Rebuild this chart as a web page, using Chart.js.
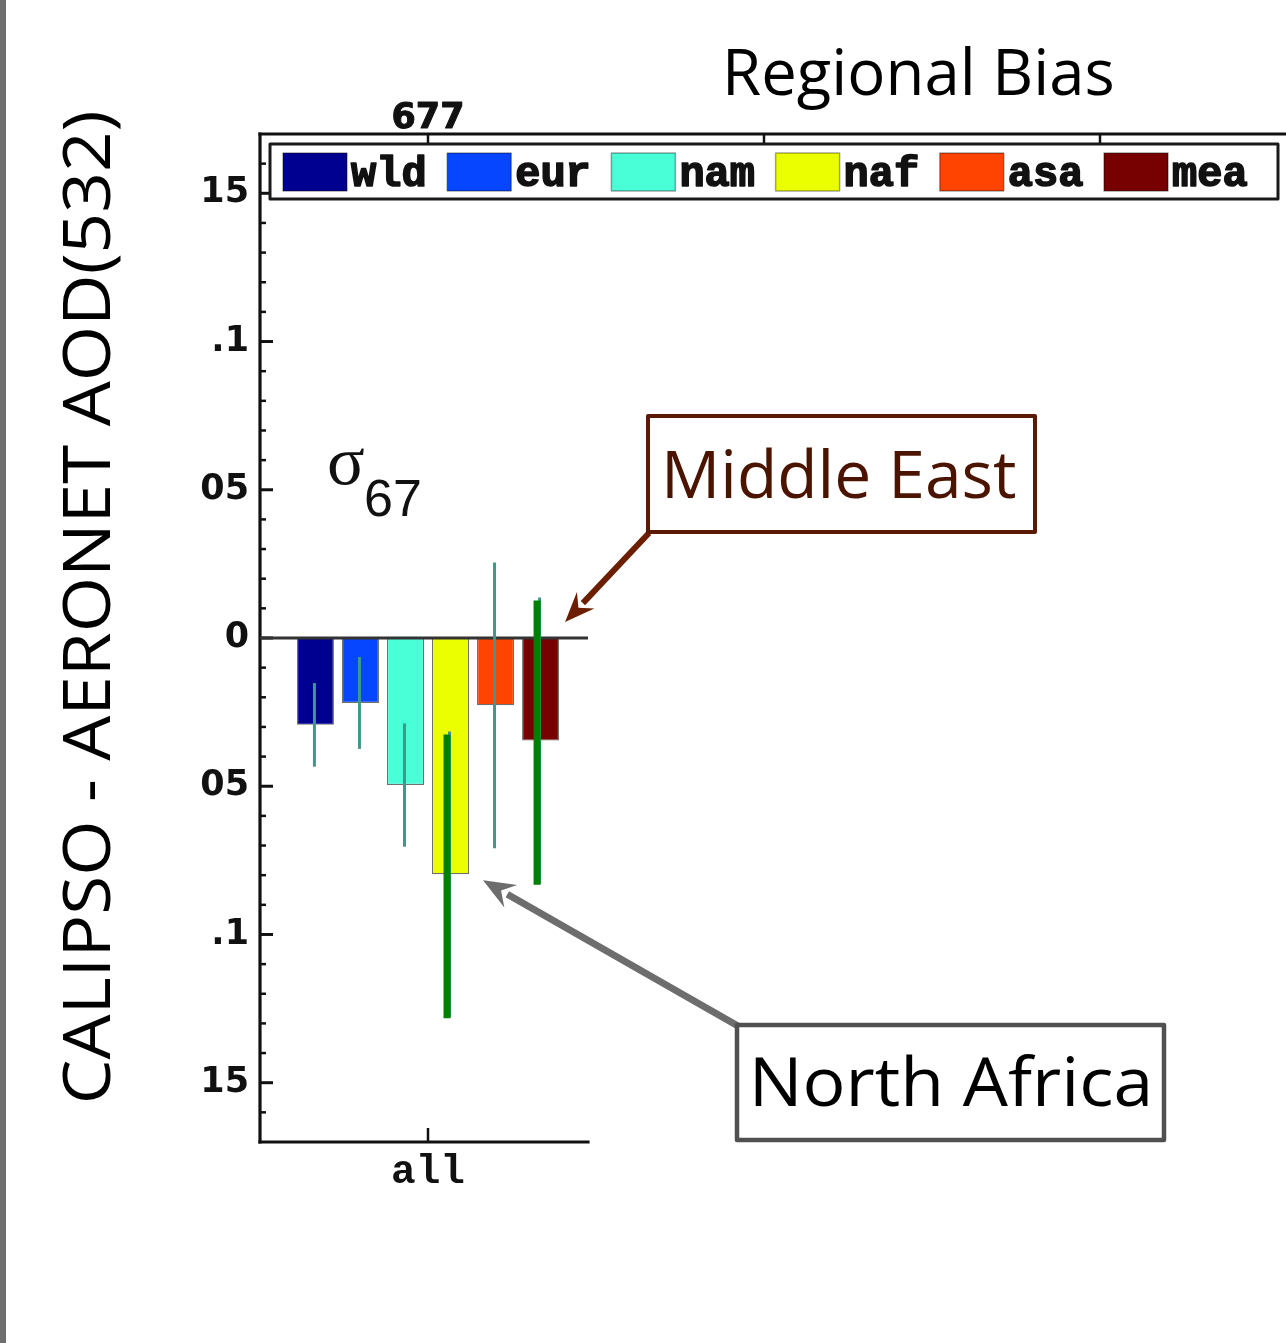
<!DOCTYPE html>
<html><head><meta charset="utf-8">
<style>html,body{margin:0;padding:0;background:#fff;overflow:hidden}canvas{display:block}</style>
<script src="https://cdn.jsdelivr.net/npm/chart.js@4.4.0/dist/chart.umd.min.js"></script>
</head><body>
<canvas id="c" width="1286" height="1343" style="width:1286px;height:1343px"></canvas>
<script>
// ---- data ----
const categories = ["all"];
const regions = ["wld", "eur", "nam", "naf", "asa", "mea"];
const regionColors = ["#000090", "#0646FF", "#48FFD8", "#EBFF00", "#FF4300", "#770000"];
const bias = [-0.0293, -0.0219, -0.0496, -0.0797, -0.0227, -0.0346];
const sigma = [0.0141, 0.0155, 0.0208, 0.0482, 0.0482, 0.0483];
const highlighted = ["naf", "mea"];
const sampleCounts = ["677"];
const yTickValues = [0.15, 0.1, 0.05, 0, -0.05, -0.1, -0.15];
const yTickLabels = ["15", ".1", "05", "0", "05", ".1", "15"];
const yMin = -0.17, yMax = 0.17;
const chartTitle = "Regional Bias";
const yAxisTitle = "CALIPSO - AERONET AOD(532)";
const callouts = { mea: "Middle East", naf: "North Africa" };

// ---- helpers ----
function fitText(ctx, text, x, y, capH, targetW, family, color, weight) {
  ctx.save();
  ctx.font = (weight || 'normal') + ' 100px ' + family;
  const hm = ctx.measureText('H');
  const size = 100 * capH / hm.actualBoundingBoxAscent;
  ctx.font = (weight || 'normal') + ' ' + size + 'px ' + family;
  const m = ctx.measureText(text);
  const inkW = m.actualBoundingBoxLeft + m.actualBoundingBoxRight;
  const sx = targetW / inkW;
  ctx.translate(x, y);
  ctx.scale(sx, 1);
  ctx.fillStyle = color;
  ctx.textAlign = 'left';
  ctx.textBaseline = 'alphabetic';
  ctx.fillText(text, m.actualBoundingBoxLeft, 0);
  ctx.restore();
}
function boldText(ctx, text, x, y, color, stroke) {
  ctx.fillStyle = color;
  ctx.strokeStyle = color;
  ctx.lineWidth = stroke;
  ctx.lineJoin = 'round';
  ctx.strokeText(text, x, y);
  ctx.fillText(text, x, y);
}
function arrow(ctx, x1, y1, x2, y2, color, w, headLen, headW) {
  const ang = Math.atan2(y2 - y1, x2 - x1);
  const bx = x2 - headLen * Math.cos(ang), by = y2 - headLen * Math.sin(ang);
  ctx.save();
  ctx.strokeStyle = color; ctx.lineWidth = w; ctx.lineCap = 'butt';
  ctx.beginPath(); ctx.moveTo(x1, y1); ctx.lineTo(bx + 4 * Math.cos(ang), by + 4 * Math.sin(ang)); ctx.stroke();
  ctx.fillStyle = color;
  ctx.beginPath();
  ctx.moveTo(x2, y2);
  ctx.lineTo(bx + headW / 2 * Math.sin(ang), by - headW / 2 * Math.cos(ang));
  ctx.lineTo(bx + 0.35 * headLen * Math.cos(ang), by + 0.35 * headLen * Math.sin(ang));
  ctx.lineTo(bx - headW / 2 * Math.sin(ang), by + headW / 2 * Math.cos(ang));
  ctx.closePath(); ctx.fill();
  ctx.restore();
}
function line(ctx, x1, y1, x2, y2, color, w) {
  ctx.strokeStyle = color; ctx.lineWidth = w;
  ctx.beginPath(); ctx.moveTo(x1, y1); ctx.lineTo(x2, y2); ctx.stroke();
}

const decor = {
  id: 'decor',
  afterDraw(chart) {
    const { ctx, chartArea: a, scales: { x, y } } = chart;
    const y0 = y.getPixelForValue(0);
    const visibleRight = 588;
    const catW = a.right - a.left;
    ctx.save();
    // page border
    ctx.fillStyle = '#6e6e6e';
    ctx.fillRect(0, 0, 6, 1343);
    // frame
    ctx.lineCap = 'square';
    line(ctx, a.left, a.top, a.left, a.bottom, '#111', 3.2);
    line(ctx, a.left, a.bottom, visibleRight, a.bottom, '#111', 3.2);
    line(ctx, a.left, a.top, 1290, a.top, '#111', 3.2);
    ctx.lineCap = 'butt';
    // y ticks (inward), minor every 0.01
    for (let k = -16; k <= 16; k++) {
      const py = y.getPixelForValue(k / 100);
      const major = k % 5 === 0;
      line(ctx, a.left, py, a.left + (major ? 13 : 6), py, '#111', major ? 3 : 2.5);
    }
    // top ticks
    const cx = x.getPixelForValue(0);
    for (let k = 0; k < 3; k++) {
      const px = cx + k * catW;
      line(ctx, px, a.top, px, a.top + 11, '#111', 2.5);
    }
    // bottom tick
    line(ctx, cx, a.bottom, cx, a.bottom - 14, '#111', 2.5);
    // zero line
    line(ctx, a.left, y0, visibleRight, y0, '#333', 3);
    // error bars
    const metas = regions.map((r, i) => chart.getDatasetMeta(i).data[0]);
    regions.forEach((r, i) => {
      const bx = metas[i].x;
      const top = y.getPixelForValue(bias[i] + sigma[i]);
      const bot = y.getPixelForValue(bias[i] - sigma[i]);
      line(ctx, bx - 1, top, bx - 1, bot, '#3d9a8a', 3);
    });
    regions.forEach((r, i) => {
      if (!highlighted.includes(r)) return;
      const bx = metas[i].x;
      const top = y.getPixelForValue(bias[i] + sigma[i]);
      const bot = y.getPixelForValue(bias[i] - sigma[i]);
      line(ctx, bx - 3.5, top + 3, bx - 3.5, bot + 1, '#008000', 7);
    });
    // top count label
    ctx.font = 'bold 35px "DejaVu Sans"';
    ctx.textAlign = 'center'; ctx.textBaseline = 'alphabetic';
    boldText(ctx, sampleCounts[0], cx, 128, '#111', 1);
    // legend
    ctx.fillStyle = '#fff';
    ctx.fillRect(270, 144, 1008, 55);
    ctx.strokeStyle = '#1a1a1a'; ctx.lineWidth = 3;
    ctx.strokeRect(270, 144, 1008, 55);
    regions.forEach((r, i) => {
      const sx = 283 + i * 164.2;
      ctx.fillStyle = regionColors[i];
      ctx.fillRect(sx, 153, 64, 38);
      ctx.strokeStyle = 'rgba(0,0,0,0.35)'; ctx.lineWidth = 1.5;
      ctx.strokeRect(sx, 153, 64, 38);
      ctx.font = 'bold 42px "Liberation Mono"';
      ctx.textAlign = 'left';
      boldText(ctx, r, sx + 68, 186, '#111', 1.6);
    });
    // sigma label
    ctx.fillStyle = '#111';
    ctx.font = '70px "Liberation Serif"';
    ctx.textAlign = 'left';
    ctx.fillText('\u03C3', 327, 484);
    ctx.font = '52px "Liberation Sans"';
    ctx.fillText('67', 364, 516);
    // title
    fitText(ctx, chartTitle, 728, 95, 47, 384, '"Open Sans"', '#000');
    // y axis title
    ctx.save();
    ctx.translate(110, 1100);
    ctx.rotate(-Math.PI / 2);
    fitText(ctx, yAxisTitle, 0, 0, 48, 987, '"Open Sans"', '#000');
    ctx.restore();
    // callouts
    const mea = metas[regions.indexOf('mea')];
    const naf = metas[regions.indexOf('naf')];
    // Middle East
    arrow(ctx, 649, 533, mea.x + mea.width / 2 + 6, y0 - 16, '#6b1e00', 6, 30, 24);
    ctx.fillStyle = '#fff';
    ctx.fillRect(648, 416, 387, 116);
    ctx.strokeStyle = '#5a1a05'; ctx.lineWidth = 4;
    ctx.strokeRect(648, 416, 387, 116);
    fitText(ctx, callouts.mea, 667, 498, 48, 348, '"Open Sans"', '#4a1400');
    // North Africa
    arrow(ctx, 738, 1026, naf.x + naf.width / 2 + 14, naf.y + 6, '#6d6d6d', 7, 32, 26);
    ctx.fillStyle = '#fff';
    ctx.fillRect(737, 1025, 427, 115);
    ctx.strokeStyle = '#505050'; ctx.lineWidth = 4.5;
    ctx.strokeRect(737, 1025, 427, 115);
    fitText(ctx, callouts.naf, 755, 1106, 50, 393, '"Open Sans"', '#000');
    ctx.restore();
  }
};

new Chart(document.getElementById('c'), {
  type: 'bar',
  data: {
    labels: categories,
    datasets: regions.map((r, i) => ({
      label: r,
      data: [bias[i]],
      backgroundColor: regionColors[i],
      borderColor: 'rgba(50,50,50,0.7)',
      borderWidth: 1.2,
      barPercentage: 0.822,
      categoryPercentage: 0.804
    }))
  },
  options: {
    responsive: false,
    devicePixelRatio: 1,
    animation: false,
    layout: { padding: { left: 0, top: 134, right: 690, bottom: 0 } },
    plugins: { legend: { display: false }, tooltip: { enabled: false }, title: { display: false } },
    scales: {
      x: {
        afterFit(s) { s.height = 201; },
        grid: { display: false, drawTicks: false },
        border: { display: false },
        ticks: { padding: 6, color: '#111', font: { family: 'Liberation Mono', weight: 'bold', size: 41 } }
      },
      y: {
        min: yMin, max: yMax,
        afterFit(s) { s.width = 260; },
        grid: { display: false, drawTicks: false },
        border: { display: false },
        ticks: {
          stepSize: 0.05, includeBounds: false, padding: 11, color: '#111',
          font: { family: 'DejaVu Sans', weight: 'bold', size: 35 },
          callback(v) {
            const i = yTickValues.findIndex(t => Math.abs(t - v) < 1e-9);
            return i >= 0 ? yTickLabels[i] : '';
          }
        }
      }
    }
  },
  plugins: [decor]
});
</script>
</body></html>
